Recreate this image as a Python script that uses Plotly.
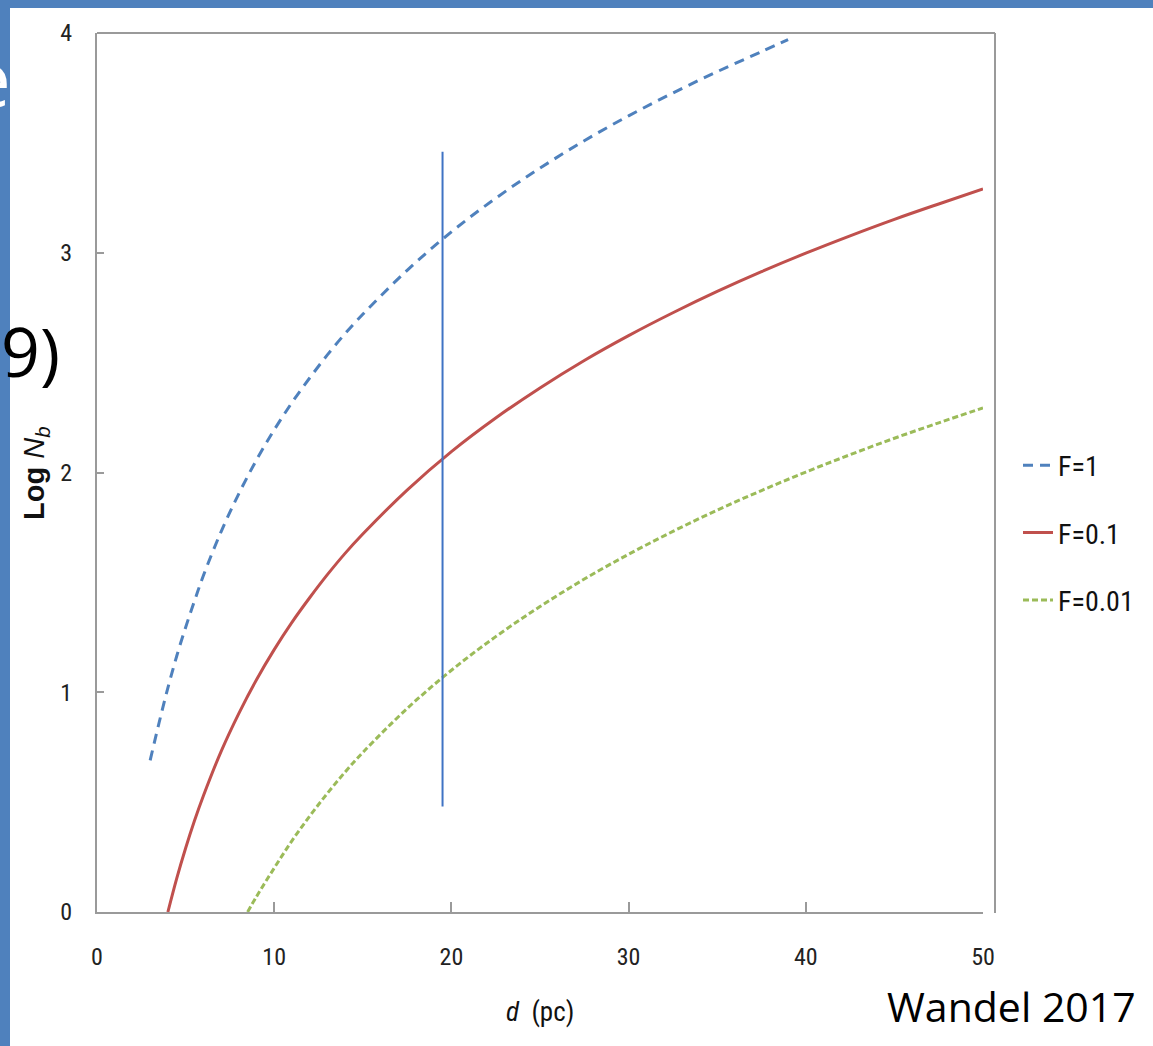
import plotly.graph_objects as go

# ---- data ----
d_f1 = [3.0, 3.5, 4.0, 4.5, 5.0, 5.5, 6.0, 7.0, 8.0, 9.0, 10.0, 11.0, 12.0, 13.0, 14.0, 15.0,
        17.5, 20.0, 22.5, 25.0, 27.5, 30.0, 32.5, 35.0, 37.5, 39.0]
logn_f1 = [0.69, 0.86, 1.02, 1.165, 1.295, 1.415, 1.53, 1.73, 1.903, 2.057, 2.194, 2.318, 2.43,
           2.535, 2.632, 2.72, 2.92, 3.095, 3.248, 3.385, 3.51, 3.623, 3.727, 3.824, 3.915, 3.97]

d_f01 = [4.0, 4.5, 5.0, 5.5, 6.0, 7.0, 8.0, 9.0, 10.0, 11.0, 12.0, 13.0, 14.0, 15.0,
         17.5, 20.0, 22.5, 25.0, 27.5, 30.0, 32.5, 35.0, 37.5, 40.0, 42.5, 45.0, 47.5, 50.0]
logn_f01 = [0.0, 0.153, 0.29, 0.415, 0.528, 0.73, 0.903, 1.057, 1.194, 1.318, 1.43, 1.535, 1.632,
            1.72, 1.92, 2.095, 2.248, 2.385, 2.51, 2.623, 2.727, 2.824, 2.914, 2.998, 3.077,
            3.152, 3.222, 3.29]

d_f001 = [8.5, 9.0, 10.0, 11.0, 12.0, 13.0, 14.0, 15.0, 17.5, 20.0, 22.5, 25.0, 27.5, 30.0,
          32.5, 35.0, 37.5, 40.0, 42.5, 45.0, 47.5, 50.0]
logn_f001 = [0.0, 0.07, 0.20, 0.324, 0.436, 0.54, 0.637, 0.726, 0.926, 1.10, 1.253, 1.39, 1.515,
             1.628, 1.732, 1.829, 1.918, 2.002, 2.081, 2.156, 2.226, 2.294]

series_names = ["F=1", "F=0.1", "F=0.01"]
marker_d = 19.5
marker_y = [0.48, 3.46]

x_ticks = [0, 10, 20, 30, 40, 50]
y_ticks = [0, 1, 2, 3, 4]

# ---- geometry helpers (pixel -> paper) ----
L, R, T, B = 97, 983, 33, 912
W, H = 1153, 1046
def px(x):
    return (x - L) / (R - L)
def py(y):
    return (B - y) / (B - T)

NARROW = "Liberation Sans Narrow, Arial Narrow, Roboto Condensed, Liberation Sans, sans-serif"

fig = go.Figure()
fig.add_trace(go.Scatter(x=d_f1, y=logn_f1, mode="lines", name=series_names[0],
                         line=dict(color="#4F81BD", width=3, dash="10px,7px", shape="spline", smoothing=1.0),
                         legendgroup="a"))
fig.add_trace(go.Scatter(x=d_f01, y=logn_f01, mode="lines", name=series_names[1],
                         line=dict(color="#C0504D", width=3, shape="spline", smoothing=1.0),
                         legendgroup="b"))
fig.add_trace(go.Scatter(x=d_f001, y=logn_f001, mode="lines", name=series_names[2],
                         line=dict(color="#9BBB59", width=3, dash="6px,3px", shape="spline", smoothing=1.0),
                         legendgroup="c"))
fig.add_trace(go.Scatter(x=[marker_d, marker_d], y=marker_y, mode="lines", showlegend=False,
                         line=dict(color="#3F73C4", width=2)))

axis_common = dict(showgrid=False, zeroline=False, showline=True, linecolor="#9A9A9A",
                   linewidth=2, ticks="inside", tickcolor="#9A9A9A", tickwidth=1.5,
                   tickfont=dict(family=NARROW, size=24, color="#222222"))

fig.update_xaxes(range=[0, 50], tickvals=x_ticks, ticklen=10, ticklabelstandoff=22,
                 **axis_common)
fig.update_yaxes(range=[0, 4], tickvals=y_ticks, ticklen=7, ticklabelstandoff=18,
                 **axis_common)

shapes = [
    # slide blue strips
    dict(type="rect", xref="paper", yref="paper", x0=px(-5), x1=px(10), y0=py(H + 50), y1=py(-5),
         fillcolor="#4F81BD", line=dict(width=0), layer="below"),
    dict(type="rect", xref="paper", yref="paper", x0=px(-5), x1=px(W + 5), y0=py(8), y1=py(-5),
         fillcolor="#4F81BD", line=dict(width=0), layer="below"),
    # chart frame (top and right)
    dict(type="line", xref="paper", yref="paper", x0=px(97), x1=px(995), y0=py(33), y1=py(33),
         line=dict(color="#9A9A9A", width=2)),
    dict(type="line", xref="paper", yref="paper", x0=px(995), x1=px(995), y0=py(33), y1=py(913),
         line=dict(color="#9A9A9A", width=2)),
]

annotations = [
    dict(text="<b>Log</b> <i>N<sub>b</sub></i>", xref="paper", yref="paper", x=px(36), y=py(474),
         xanchor="center", yanchor="middle", textangle=-90, showarrow=False,
         font=dict(family="Liberation Sans, Arial, sans-serif", size=29, color="#111111")),
    dict(text="<i>d</i>  (pc)", xref="paper", yref="paper", x=px(540), y=py(1012),
         xanchor="center", yanchor="middle", showarrow=False,
         font=dict(family=NARROW, size=27, color="#111111")),
    dict(text="Wandel 2017", xref="paper", yref="paper", x=px(1138), y=py(1006),
         xanchor="right", yanchor="middle", showarrow=False,
         font=dict(family="Open Sans, Liberation Sans, sans-serif", size=41, color="#000000")),
    dict(text="9)", xref="paper", yref="paper", x=px(-1), y=py(350),
         xanchor="left", yanchor="middle", showarrow=False,
         font=dict(family="Open Sans, Liberation Sans, sans-serif", size=68, color="#000000")),
    dict(text="e", xref="paper", yref="paper", x=px(13), y=py(78),
         xanchor="right", yanchor="middle", showarrow=False,
         font=dict(family="Open Sans, Liberation Sans, sans-serif", size=76, color="#FFFFFF")),
]

fig.update_layout(
    width=W, height=H,
    margin=dict(l=L, r=W - R, t=T, b=H - B, pad=0),
    paper_bgcolor="white", plot_bgcolor="white",
    shapes=shapes, annotations=annotations,
    legend=dict(x=px(1018), y=py(533), xanchor="left", yanchor="middle",
                font=dict(family=NARROW, size=28, color="#111111"),
                tracegroupgap=28, bgcolor="rgba(0,0,0,0)", itemwidth=30),
)

fig.write_html("out.html", config={"displayModeBar": False},
               post_script="document.body.style.margin='0px';document.body.style.overflow='hidden';")
